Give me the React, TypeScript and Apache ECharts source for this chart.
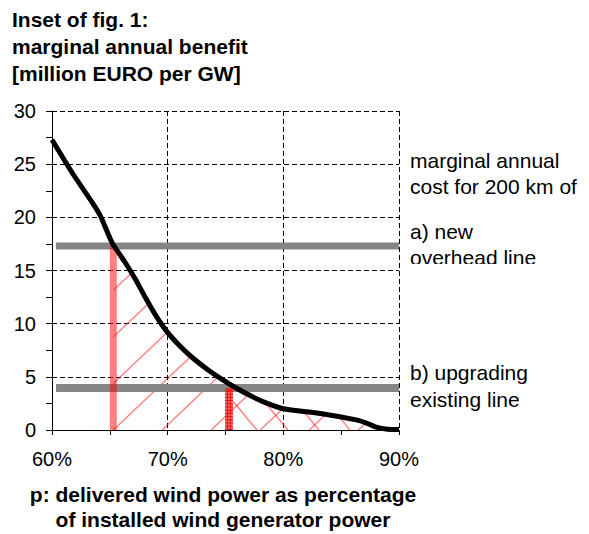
import React, { useEffect, useRef } from "react";
import * as echarts from "echarts";

// ---- data ----
const benefitP = [60, 61.8, 63.6, 64.2, 65.2, 66.3, 67.2, 68.0, 68.9, 69.9, 71.1, 72.2, 73.5, 74.8, 76.0, 77.3, 78.5, 80.0, 83.2, 86.3, 87.2, 88.1, 89.0, 90];
const benefitValue = [27.3, 24.1, 21.2, 20.1, 17.6, 15.8, 14.2, 12.6, 10.9, 9.3, 7.85, 6.75, 5.65, 4.7, 3.9, 3.15, 2.55, 2.0, 1.55, 0.95, 0.65, 0.25, 0.08, 0.05];

const costLevels = [17.3, 3.95]; // a) new overhead line, b) upgrading existing line
const costBandRange = [60.35, 90];
const breakEvenP = [65.3, 75.3];

const titleLines = ["Inset of fig. 1:", "marginal annual benefit", "[million EURO per GW]"];
const costLabelLines = ["marginal annual", "cost for 200 km of"];
const costALines = ["a) new", "overhead line"];
const costBLines = ["b) upgrading", "existing line"];
const xNameLines = ["p: delivered wind power as percentage", "of installed wind generator power"];

const FONT = '"Liberation Sans", Arial, Helvetica, sans-serif';

function hatchRender(params: any, api: any) {
  const pts = benefitP.map((p, i) => api.coord([p, benefitValue[i]]));
  const y0 = api.coord([60, 0])[1];
  const xR = api.coord([90, 0])[0];
  const b1 = api.coord([breakEvenP[0], 0])[0];
  const b2 = api.coord([breakEvenP[1], 0])[0];
  const curveY = (x: number) => {
    for (let i = 0; i < pts.length - 1; i++) {
      if (x <= pts[i + 1][0]) {
        const t = (x - pts[i][0]) / (pts[i + 1][0] - pts[i][0]);
        return pts[i][1] + t * (pts[i + 1][1] - pts[i][1]);
      }
    }
    return pts[pts.length - 1][1];
  };
  const style = { stroke: "rgba(255,0,0,0.5)", lineWidth: 1.4 };
  const children: any[] = [];
  const S1 = 0.95, SP1 = 49;
  for (let k = -6; k <= 12; k++) {
    const c = b1 + k * SP1;
    if (c > xR) break;
    const f = (x: number) => y0 - S1 * (x - c);
    const xs = Math.max(c, b1);
    if (f(xs) <= curveY(xs)) continue;
    let xe = xs;
    while (xe < xR && f(xe) > curveY(xe)) xe += 0.25;
    children.push({ type: "line", shape: { x1: xs, y1: f(xs), x2: xe, y2: f(xe) }, style });
  }
  const S2 = 1.2, SP2 = 31, OFF2 = 28;
  const left2 = b2 + 4;
  for (let k = 0; k < 20; k++) {
    const c = b2 + OFF2 + k * SP2;
    if (c > xR) break;
    const g = (x: number) => y0 - S2 * (c - x);
    let xe = c;
    while (xe > left2 && g(xe) > curveY(xe)) xe -= 0.25;
    children.push({ type: "line", shape: { x1: c, y1: y0, x2: xe, y2: g(xe) }, style });
  }
  return { type: "group", children };
}

function barRender(params: any, api: any) {
  const top = api.coord([api.value(0), api.value(1)]);
  const bottom = api.coord([api.value(0), 0]);
  const cx = top[0];
  if (params.dataIndex === 0) {
    return {
      type: "rect",
      shape: { x: cx - 3.5, y: top[1], width: 7, height: bottom[1] - top[1] },
      style: { fill: "rgba(255,0,0,0.5)" },
    };
  }
  const children: any[] = [
    {
      type: "rect",
      shape: { x: cx - 4, y: top[1], width: 8, height: bottom[1] - top[1] },
      style: { fill: "rgba(255,50,50,0.7)" },
    },
  ];
  const ls = { stroke: "rgba(220,0,0,0.8)", lineWidth: 1 };
  for (let y = top[1] + 3; y < bottom[1]; y += 3.2) {
    children.push({ type: "line", shape: { x1: cx - 4, y1: y, x2: cx + 4, y2: y }, style: ls });
  }
  children.push({ type: "line", shape: { x1: cx - 1.4, y1: top[1], x2: cx - 1.4, y2: bottom[1] }, style: ls });
  children.push({ type: "line", shape: { x1: cx + 1.4, y1: top[1], x2: cx + 1.4, y2: bottom[1] }, style: ls });
  return { type: "group", children };
}

function textLine(text: string, x: number, y: number, size: number, bold: boolean, align = "left") {
  return {
    type: "text",
    x,
    y,
    z: 10,
    style: {
      text,
      fill: "#000",
      fontSize: size,
      fontWeight: bold ? "bold" : "normal",
      fontFamily: FONT,
      align,
      verticalAlign: "middle",
    },
  };
}

export default function App() {
  const ref = useRef<HTMLDivElement>(null);
  useEffect(() => {
    document.body.style.margin = "0";
    const chart = echarts.init(ref.current!, undefined, { renderer: "svg" });
    const dashed = { color: "#000", type: [5, 3], width: 1 } as any;
    const graphics: any[] = [];
    const titleY = [19.5, 46.5, 73.5];
    titleLines.forEach((t, i) => graphics.push(textLine(t, 12, titleY[i], 21, true)));
    const costY = [160.5, 186.5];
    costLabelLines.forEach((t, i) => graphics.push(textLine(t, 410, costY[i], 21, false)));
    const aY = [231.5, 257.5];
    costALines.forEach((t, i) => graphics.push(textLine(t, 410, aY[i], 21, false)));
    graphics.push({ type: "rect", z: 11, shape: { x: 404, y: 264, width: 185, height: 10 }, style: { fill: "#fff" } });
    const bY = [372.5, 399.5];
    costBLines.forEach((t, i) => graphics.push(textLine(t, 410, bY[i], 21, false)));
    const nameY = [494.5, 519.5];
    xNameLines.forEach((t, i) => graphics.push(textLine(t, 223, nameY[i], 21, true, "center")));

    chart.setOption({
      animation: false,
      backgroundColor: "#fff",
      textStyle: { fontFamily: FONT },
      grid: { left: 52, right: 190, top: 111, bottom: 104, containLabel: false },
      xAxis: {
        type: "value",
        min: 60,
        max: 90,
        interval: 10,
        axisLine: { show: true, lineStyle: { color: "#000", width: 1 } },
        axisTick: { show: true, length: 5, lineStyle: { color: "#000" } },
        minorTick: { show: true, splitNumber: 2, length: 5, lineStyle: { color: "#000" } },
        axisLabel: { formatter: (v: number) => `${v}%`, fontSize: 20, color: "#000", margin: 19, fontFamily: FONT },
        splitLine: { show: true, lineStyle: dashed },
      },
      yAxis: {
        type: "value",
        min: 0,
        max: 30,
        interval: 5,
        axisLine: { show: true, lineStyle: { color: "#000", width: 1 } },
        axisTick: { show: true, length: 6, lineStyle: { color: "#000" } },
        minorTick: { show: true, splitNumber: 2, length: 6, lineStyle: { color: "#000" } },
        axisLabel: { fontSize: 20, color: "#000", margin: 16, fontFamily: FONT },
        splitLine: { show: true, lineStyle: dashed },
      },
      graphic: graphics,
      series: [
        {
          type: "custom",
          z: 1,
          silent: true,
          renderItem: hatchRender,
          data: [[60, 0]],
          encode: { x: 0, y: 1 },
        },
        ...costLevels.map((lvl, i) => ({
          type: "line",
          z: 2,
          silent: true,
          symbol: "none",
          data: costBandRange.map((p) => [p, lvl]),
          lineStyle: { color: "#858585", width: i === 0 ? 7 : 8, cap: "butt" },
        })),
        {
          type: "custom",
          z: 3,
          silent: true,
          renderItem: barRender,
          data: breakEvenP.map((p, i) => [p, costLevels[i]]),
          encode: { x: 0, y: 1 },
        },
        {
          type: "line",
          z: 4,
          silent: true,
          symbol: "none",
          smooth: 0.2,
          data: benefitP.map((p, i) => [p, benefitValue[i]]),
          lineStyle: { color: "#000", width: 5 },
        },
      ],
    });
    return () => chart.dispose();
  }, []);
  return <div ref={ref} style={{ width: 589, height: 534 }} />;
}
